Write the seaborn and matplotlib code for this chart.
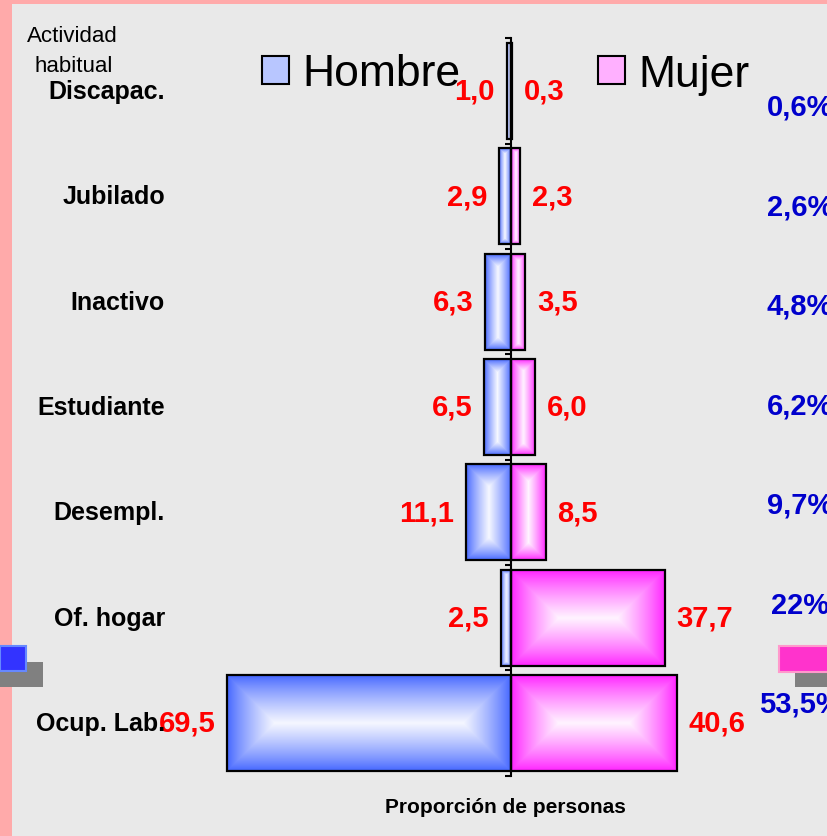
import numpy as np
import pandas as pd
import seaborn as sns
import matplotlib
matplotlib.use('Agg')
import matplotlib.pyplot as plt
from matplotlib.patches import Rectangle, Patch
from matplotlib.transforms import blended_transform_factory

# Data
actividades = ['Discapac.', 'Jubilado', 'Inactivo', 'Estudiante', 'Desempl.', 'Of. hogar', 'Ocup. Lab.']
hombre = [1.0, 2.9, 6.3, 6.5, 11.1, 2.5, 69.5]
mujer = [0.3, 2.3, 3.5, 6.0, 8.5, 37.7, 40.6]
total = ['0,6%', '2,6%', '4,8%', '6,2%', '9,7%', '22%', '53,5%']

W, H = 828, 837
BG = '#e9e9e9'
BLUE = '#3f62ff'
PINK = '#ff1cff'

sns.set_style('white')
plt.rcParams['font.family'] = ['Liberation Sans', 'DejaVu Sans']
plt.rcParams['text.color'] = 'black'

df = pd.DataFrame({
    'Actividad': actividades * 2,
    'Sexo': ['Hombre'] * len(actividades) + ['Mujer'] * len(actividades),
    'Valor': [-v for v in hombre] + mujer,
})

fig = plt.figure(figsize=(W / 100, H / 100), dpi=100, facecolor=BG)
ax = fig.add_axes([0, 0, 1, 1])
ax.patch.set_alpha(0)

sns.barplot(data=df, y='Actividad', x='Valor', hue='Sexo', dodge=False,
            palette={'Hombre': BLUE, 'Mujer': PINK}, saturation=1, width=0.91, orient='h',
            edgecolor='black', linewidth=1.6, legend=False, ax=ax)

# place zero at x=511 px, 4.08 px per unit; rows centred at 92 .. 724 px
sx = 4.08
ax.set_xlim(-511 / sx, (W - 511) / sx)
step = (724 - 92) / 6
ax.set_ylim((H - 92) / step, -92 / step)
ax.set_xlabel('')
ax.set_ylabel('')
ax.set_xticks([])

for s in ['top', 'right', 'bottom']:
    ax.spines[s].set_visible(False)
ax.spines['left'].set_position(('data', 0))
ax.spines['left'].set_bounds(-0.5, len(actividades) - 0.5)
ax.spines['left'].set_linewidth(1.5)
ax.spines['left'].set_color('black')
ax.set_yticks(np.arange(-0.5, len(actividades)))
ax.set_yticklabels([])
ax.tick_params(axis='y', direction='out', length=4, width=1.5, left=True, color='black')

# gradient fill ("from centre") inside each bar
fig.canvas.draw()
renderer = fig.canvas.get_renderer()
xl, yl = ax.get_xlim(), ax.get_ylim()
for p in ax.patches:
    fc = np.array(p.get_facecolor()[:3])
    bb = p.get_window_extent(renderer)
    wpx, hpx = max(int(round(bb.width)), 1), max(int(round(bb.height)), 1)
    xs = np.arange(wpx) + 0.5
    ys = np.arange(hpx) + 0.5
    dx = np.minimum(xs, wpx - xs)[None, :]
    dy = np.minimum(ys, hpx - ys)[:, None]
    t = np.minimum(dx, dy) / (min(wpx, hpx) / 2)
    t = np.clip(t, 0, 1) ** 0.8 * 0.95
    img = fc[None, None, :] * (1 - t[..., None]) + np.ones(3)[None, None, :] * t[..., None]
    x0, y0 = p.get_x(), p.get_y()
    ax.imshow(img, extent=(x0, x0 + p.get_width(), y0 + p.get_height(), y0),
              aspect='auto', interpolation='bilinear', zorder=p.get_zorder() - 0.05)
    p.set_facecolor('none')
ax.set_xlim(xl)
ax.set_ylim(yl)

# value labels
nb = len(actividades)
for i, p in enumerate(ax.patches[:2 * nb]):
    yc = p.get_y() + p.get_height() / 2
    left = min(p.get_x(), p.get_x() + p.get_width())
    right = max(p.get_x(), p.get_x() + p.get_width())
    if i < nb:
        ax.annotate(f'{hombre[i]:.1f}'.replace('.', ','), (left, yc),
                    xytext=(-8.5, 0), textcoords='offset points', ha='right', va='center',
                    color='red', fontsize=21, fontweight='bold')
    else:
        j = i - nb
        ax.annotate(f'{mujer[j]:.1f}'.replace('.', ','), (right, yc),
                    xytext=(8.5, 0), textcoords='offset points', ha='left', va='center',
                    color='red', fontsize=21, fontweight='bold')

# category labels
tr = blended_transform_factory(fig.transFigure, ax.transData)
for i, name in enumerate(actividades):
    ax.text(165 / W, i, name, transform=tr, ha='right', va='center',
            fontsize=18, fontweight='bold', color='black')

# total percentages on the right (cut by the edge as in the original)
ypos = np.linspace(108, 705, len(total))
for lab, yp in zip(total, ypos):
    fig.text(800 / W, 1 - yp / H, lab, ha='center', va='center',
             fontsize=21, fontweight='bold', color='#0000cc')

fig.text(27 / W, 1 - 36 / H, 'Actividad', ha='left', va='center', fontsize=16)
fig.text(35 / W, 1 - 67 / H, 'habitual', ha='left', va='center', fontsize=16)
fig.text(505 / W, 1 - 808 / H, 'Proporción de personas', ha='center', va='center',
         fontsize=15, fontweight='bold')

handles = [Patch(facecolor='#b8c6ff', edgecolor='black', linewidth=1.5, label='Hombre'),
           Patch(facecolor='#ffb0ff', edgecolor='black', linewidth=1.5, label='Mujer')]
fig.legend(handles=handles, loc='center left', bbox_to_anchor=(262 / W, 1 - 75 / H),
           ncol=2, frameon=False, fontsize=32, handlelength=0.6, handleheight=0.6,
           handletextpad=0.3, columnspacing=3.1, borderpad=0, borderaxespad=0)

# frame decorations
def fig_rect(x0, y0, x1, y1, **kw):
    fig.add_artist(Rectangle((x0 / W, 1 - y1 / H), (x1 - x0) / W, (y1 - y0) / H,
                             transform=fig.transFigure, **kw))

fig_rect(0, 0, W, 5, facecolor='#ffaaaa', edgecolor='none', zorder=0)
fig_rect(0, 0, 12, H, facecolor='#ffaaaa', edgecolor='none', zorder=0)
fig_rect(0, 663, 43, 688, facecolor='#808080', edgecolor='none', zorder=1)
fig_rect(0, 647, 26, 672, facecolor='#3333ff', edgecolor='#6688ff', linewidth=1.5, zorder=2)
fig_rect(795, 673, W, 688, facecolor='#808080', edgecolor='none', zorder=1)
fig_rect(779, 647, W + 2, 673, facecolor='#ff33cc', edgecolor='#ff99cc', linewidth=1.5, zorder=2)

fig.savefig('out.png', dpi=100, facecolor=BG)
